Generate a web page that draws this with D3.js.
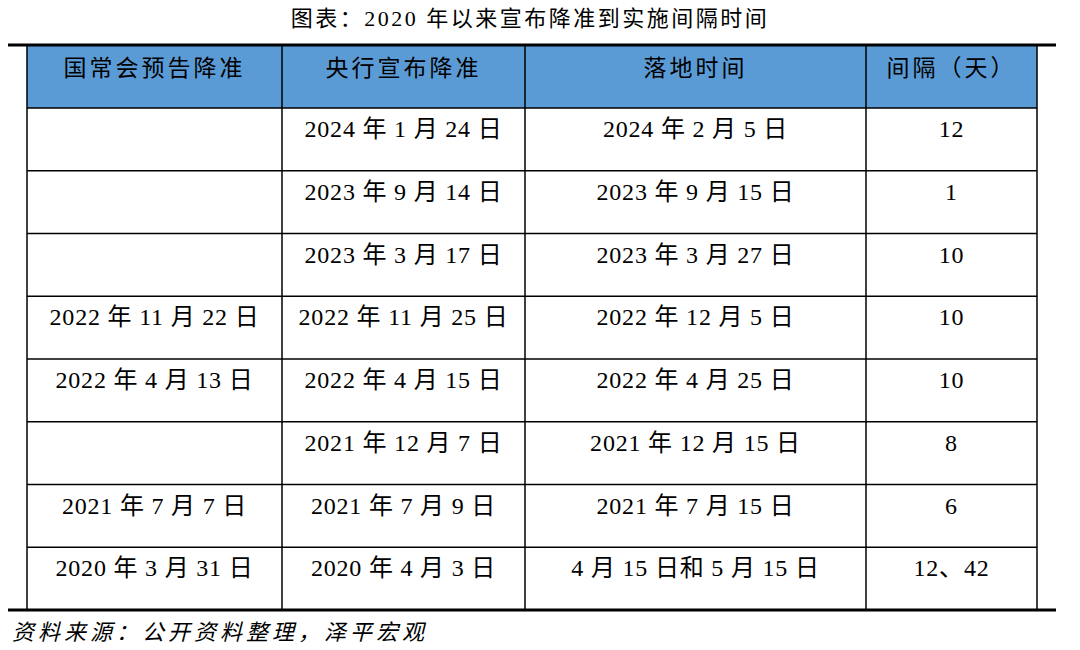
<!DOCTYPE html>
<html><head><meta charset="utf-8">
<script src="https://cdn.jsdelivr.net/npm/d3@7"></script>
<style>body{margin:0;background:#fff}</style>
</head><body>
<svg id="chart" width="1080" height="650"></svg>
<script>
const title = "图表：2020 年以来宣布降准到实施间隔时间";
const headers = ["国常会预告降准", "央行宣布降准", "落地时间", "间隔（天）"];
const stateCouncil = ["", "", "", "2022 年 11 月 22 日", "2022 年 4 月 13 日", "", "2021 年 7 月 7 日", "2020 年 3 月 31 日"];
const pbocAnnounce = ["2024 年 1 月 24 日", "2023 年 9 月 14 日", "2023 年 3 月 17 日", "2022 年 11 月 25 日", "2022 年 4 月 15 日", "2021 年 12 月 7 日", "2021 年 7 月 9 日", "2020 年 4 月 3 日"];
const effective = ["2024 年 2 月 5 日", "2023 年 9 月 15 日", "2023 年 3 月 27 日", "2022 年 12 月 5 日", "2022 年 4 月 25 日", "2021 年 12 月 15 日", "2021 年 7 月 15 日", "4 月 15 日和 5 月 15 日"];
const gapDays = ["12", "1", "10", "10", "10", "8", "6", "12、42"];
const source = "资料来源：公开资料整理，泽平宏观";

const svg = d3.select("#chart");
const colEdges = [27, 282, 525, 866, 1037];
const rowY = d3.scaleLinear().domain([0, 8]).range([108, 610]);
const font = "'Liberation Serif','Noto Sans CJK SC',serif";

svg.append("text").attr("x", 530).attr("y", 26).attr("text-anchor", "middle")
    .attr("font-family", font).attr("font-size", 22).attr("letter-spacing", 2.5).text(title);

// header
svg.append("rect").attr("x", 27).attr("y", 46).attr("width", 1010).attr("height", 62).attr("fill", "#5B9BD5");
headers.forEach((h, i) => {
    svg.append("text").attr("x", (colEdges[i] + colEdges[i + 1]) / 2).attr("y", 76)
        .attr("text-anchor", "middle").attr("font-family", font).attr("font-size", 23)
        .attr("letter-spacing", 3).text(h);
});

const rows = stateCouncil.map((d, i) => [d, pbocAnnounce[i], effective[i], gapDays[i]]);
rows.forEach((r, i) => {
    r.forEach((t, j) => {
        svg.append("text").attr("x", (colEdges[j] + colEdges[j + 1]) / 2).attr("y", rowY(i) + 29)
            .attr("text-anchor", "middle").attr("font-family", font).attr("font-size", 24)
            .attr("letter-spacing", 0.8).text(t);
    });
});

// grid
d3.range(0, 8).forEach(i => {
    svg.append("line").attr("x1", 27).attr("x2", 1037).attr("y1", rowY(i)).attr("y2", rowY(i))
        .attr("stroke", "#000").attr("stroke-width", 1.5);
});
colEdges.forEach(x => {
    svg.append("line").attr("x1", x).attr("x2", x).attr("y1", 46).attr("y2", 610)
        .attr("stroke", "#000").attr("stroke-width", 1.5);
});
[45, 610].forEach(y => {
    svg.append("line").attr("x1", 8).attr("x2", 1056).attr("y1", y).attr("y2", y)
        .attr("stroke", "#000").attr("stroke-width", 3);
});

svg.append("text").attr("x", 12).attr("y", 640).attr("font-family", font).attr("font-size", 22)
    .attr("letter-spacing", 4).attr("font-style", "italic").text(source);
</script>
</body></html>
